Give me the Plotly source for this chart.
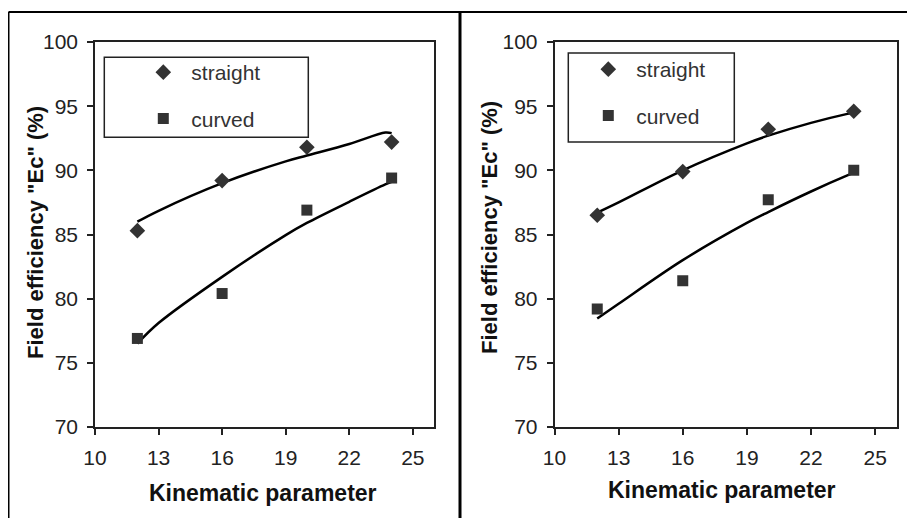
import plotly.graph_objects as go

# page shows the figure at an 8 px offset, so the figure is 8 px smaller than the window
OFF = 8
W, H = 915 - OFF, 518 - OFF

# ---- data ----
kin = [12, 16, 20, 24]

left_straight = [85.3, 89.2, 91.8, 92.2]
left_curved = [76.9, 80.4, 86.9, 89.4]
right_straight = [86.5, 89.9, 93.2, 94.6]
right_curved = [79.2, 81.4, 87.7, 90.0]

trend_x = [12, 13, 16, 19, 20, 22, 23.7, 24]
left_straight_trend = [86.0, 86.85, 89.0, 90.7, 91.15, 92.05, 92.95, 92.9]
left_curved_trend = [76.5, 78.1, 81.7, 84.95, 85.9, 87.55, 88.9, 89.1]
right_straight_trend = [86.7, 87.5, 90.0, 92.1, 92.7, 93.7, 94.4, 94.5]
right_curved_trend = [78.45, 79.6, 83.0, 85.9, 86.75, 88.35, 89.6, 89.8]

x_ticks = [10, 13, 16, 19, 22, 25]
y_ticks = [70, 75, 80, 85, 90, 95, 100]
x_title = "Kinematic parameter"
y_title = 'Field efficiency "Ec" (%)'
names = ["straight", "curved"]

FONT = "Liberation Sans, Arial, sans-serif"
MC = "#333333"

fig = go.Figure()

def add_panel(xa, ya, straight, curved, st_trend, cu_trend, leg):
    fig.add_trace(go.Scatter(x=trend_x, y=st_trend, mode="lines", line=dict(color="black", width=2.5, shape="spline"),
                             xaxis=xa, yaxis=ya, showlegend=False, hoverinfo="skip"))
    fig.add_trace(go.Scatter(x=trend_x, y=cu_trend, mode="lines", line=dict(color="black", width=2.5, shape="spline"),
                             xaxis=xa, yaxis=ya, showlegend=False, hoverinfo="skip"))
    fig.add_trace(go.Scatter(x=kin, y=straight, mode="markers", name=names[0],
                             marker=dict(symbol="diamond", size=12, color=MC),
                             xaxis=xa, yaxis=ya, legend=leg, legendgroup=leg + "a"))
    fig.add_trace(go.Scatter(x=kin, y=curved, mode="markers", name=names[1],
                             marker=dict(symbol="square", size=11, color=MC),
                             xaxis=xa, yaxis=ya, legend=leg, legendgroup=leg + "b"))

add_panel("x", "y", left_straight, left_curved, left_straight_trend, left_curved_trend, "legend")
add_panel("x2", "y2", right_straight, right_curved, right_straight_trend, right_curved_trend, "legend2")

def px_x(p):
    return max(0.0, min(1.0, (p - OFF) / W))

def px_y(p):
    return max(0.0, min(1.0, 1 - (p - OFF) / H))

axis_common = dict(showline=True, mirror=True, linecolor="#222", linewidth=1.5,
                   ticks="outside", ticklen=6, tickcolor="#222", tickwidth=1.5,
                   showgrid=False, zeroline=False, automargin=False,
                   tickfont=dict(family=FONT, size=21, color="#222"))

ydom = [px_y(427), px_y(42)]
fig.update_layout(
    xaxis=dict(domain=[px_x(95), px_x(434)], range=[10, 26], tickvals=x_ticks, anchor="y",
               ticklabelstandoff=5, **axis_common),
    yaxis=dict(domain=ydom, range=[70, 100], tickvals=y_ticks, anchor="x",
               ticklabelstandoff=5, **axis_common),
    xaxis2=dict(domain=[px_x(554.5), px_x(896.5)], range=[10, 26], tickvals=x_ticks, anchor="y2",
                ticklabelstandoff=5, **axis_common),
    yaxis2=dict(domain=ydom, range=[70, 100], tickvals=y_ticks, anchor="x2",
                ticklabelstandoff=5, **axis_common),
)

leg_common = dict(bgcolor="rgba(0,0,0,0)", borderwidth=0, itemwidth=46, tracegroupgap=16,
                  font=dict(family=FONT, size=21, color="#333"), xanchor="left", yanchor="top",
                  traceorder="grouped")
fig.update_layout(
    legend=dict(x=px_x(135.3), y=px_y(52), **leg_common),
    legend2=dict(x=px_x(580.3), y=px_y(49), **leg_common),
)

shapes = [
    # outer frame
    dict(type="line", xref="paper", yref="paper", x0=px_x(8.5), x1=1, y0=px_y(12), y1=px_y(12),
         line=dict(color="black", width=2)),
    dict(type="line", xref="paper", yref="paper", x0=px_x(8.5), x1=px_x(8.5), y0=px_y(12), y1=0,
         line=dict(color="black", width=2)),
    dict(type="line", xref="paper", yref="paper", x0=px_x(460), x1=px_x(460), y0=px_y(12), y1=0,
         line=dict(color="black", width=3)),
    # legend boxes
    dict(type="rect", xref="paper", yref="paper", x0=px_x(104.3), x1=px_x(308.3), y0=px_y(137.3), y1=px_y(57.3),
         line=dict(color="#222", width=1.5)),
    dict(type="rect", xref="paper", yref="paper", x0=px_x(568.3), x1=px_x(734.3), y0=px_y(142), y1=px_y(53),
         line=dict(color="#222", width=1.5)),
]

annotations = [
    dict(text="<b>%s</b>" % x_title, xref="paper", yref="paper", x=px_x(263), y=px_y(493),
         xanchor="center", yanchor="middle", showarrow=False, font=dict(family=FONT, size=23, color="#111")),
    dict(text="<b>%s</b>" % x_title, xref="paper", yref="paper", x=px_x(722), y=px_y(490),
         xanchor="center", yanchor="middle", showarrow=False, font=dict(family=FONT, size=23, color="#111")),
    dict(text="<b>%s</b>" % y_title, xref="paper", yref="paper", x=px_x(35), y=px_y(233), textangle=-90,
         xanchor="center", yanchor="middle", showarrow=False, font=dict(family=FONT, size=22, color="#111")),
    dict(text="<b>%s</b>" % y_title, xref="paper", yref="paper", x=px_x(489), y=px_y(228), textangle=-90,
         xanchor="center", yanchor="middle", showarrow=False, font=dict(family=FONT, size=22, color="#111")),
]

fig.update_layout(
    width=W, height=H, margin=dict(l=0, r=0, t=0, b=0, autoexpand=False),
    paper_bgcolor="white", plot_bgcolor="white",
    shapes=shapes, annotations=annotations, showlegend=True,
)

fig.write_html("out.html")
